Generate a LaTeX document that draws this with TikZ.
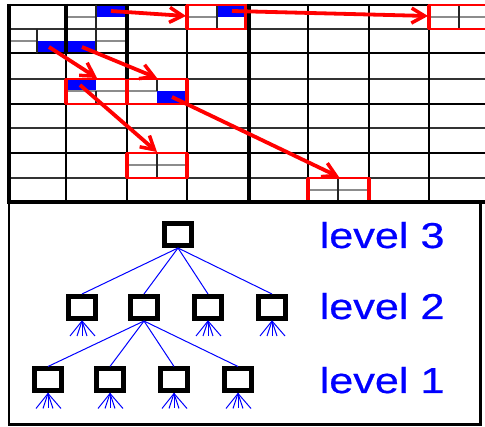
\documentclass[tikz,border=0pt]{standalone}
\usepackage{fontspec}
\newfontfamily\labelfont[FakeBold=0.5]{Liberation Sans}
\usetikzlibrary{arrows.meta}
\begin{document}
\begin{tikzpicture}[x=1pt,y=-1pt,
  thickv/.style={line width=4pt,black},
  mainh/.style={line width=2pt,black},
  halfh/.style={line width=1.3pt,black!80},
  thinv/.style={line width=1.5pt,black},
  subh/.style={line width=1.3pt,black!45},
  subv/.style={line width=1.3pt,black!85},
  bluecell/.style={fill=blue},
  redbox/.style={draw=red,line width=2pt},
  redside/.style={red,line width=4pt},
  jump/.style={red,line width=3.8pt,-{Straight Barb[length=13pt,width=15pt,line width=3.5pt]}},
  tbox/.style={draw=black,line width=5pt,minimum width=27pt,minimum height=22pt,inner sep=0pt,fill=white},
  link/.style={blue,line width=1pt},
  lvl/.style={anchor=base west,inner sep=0pt,text=blue,font=\labelfont\fontsize{36}{40}\selectfont}
]
\useasboundingbox (0,0) rectangle (485,427);
\fill[white] (0,0) rectangle (485,427);
\clip (0,0) rectangle (485,427);

% blue cells
\fill[bluecell] (96,5) rectangle (127,17);
\fill[bluecell] (37,41) rectangle (66,53);
\fill[bluecell] (66,41) rectangle (96,53);
\fill[bluecell] (217,5) rectangle (248,17);
\fill[bluecell] (66,79) rectangle (96,91);
\fill[bluecell] (157,91) rectangle (187,104);

% half-row lines
\foreach \y in {29,79,128,178} \draw[halfh] (9,\y) -- (492,\y);
% main rows
\foreach \y in {5,53,104} \draw[mainh] (9,\y) -- (492,\y);
\draw[line width=1.6pt] (9,153) -- (492,153);

% sub-divisions
\draw[subh] (66,17) -- (96,17);
\draw[subv] (96,5) -- (96,29);
\draw[subh] (9,41) -- (37,41);
\draw[subv] (37,29) -- (37,53);
\draw[subh] (96,41) -- (127,41);
\draw[subv] (96,29) -- (96,53);
\draw[subh] (187,17) -- (217,17);
\draw[subv] (217,5) -- (217,29);
\draw[subh] (429,17) -- (492,17);
\draw[subv] (459,5) -- (459,29);
\draw[subh] (66,91) -- (127,91);
\draw[subv] (96,91) -- (96,104);
\draw[subh] (127,91) -- (157,91);
\draw[subv] (157,79) -- (157,91);
\draw[subh] (127,165) -- (187,165);
\draw[subv] (157,153) -- (157,178);
\draw[subh] (308,190) -- (369,190);
\draw[subv] (338,178) -- (338,202);

% vertical lines
\foreach \x in {187,308,369,429} \draw[thinv] (\x,5) -- (\x,202);
\draw[thinv] (66,53) -- (66,202);
\draw[thinv] (127,79) -- (127,202);

% red boxes
\foreach \a/\b/\c/\d in {187/5/246/29, 429/5/492/29, 66/79/127/104, 127/79/187/104, 127/153/187/178, 308/178/369/202}{
  \draw[redbox] (\a,\b) rectangle (\c,\d);
  \draw[redside] (\a,\b) -- (\a,\d);
  \draw[redside] (\c,\b) -- (\c,\d);
}

% thick lines
\draw[thickv] (9,4) -- (9,203);
\draw[thickv] (66,4) -- (66,53);
\draw[thickv] (127,4) -- (127,79);
\draw[thickv] (248.5,4) -- (248.5,203);
\draw[line width=3.5pt] (7,202) -- (492,202);

% bottom panel
\draw[line width=2.5pt] (9,203) -- (9,424.7) -- (480.3,424.7) -- (480.3,203);

% arrows
\coordinate (s1) at (111,11);  \coordinate (e1) at (186,16);
\coordinate (s2) at (232,11);  \coordinate (e2) at (428,16);
\coordinate (s3) at (49,47);   \coordinate (e3) at (97,78);
\coordinate (s4) at (82,47);   \coordinate (e4) at (157,78);
\coordinate (s5) at (80,85);   \coordinate (e5) at (157,152);
\coordinate (s6) at (172,97);  \coordinate (e6) at (339,177);
\foreach \i in {1,...,6} \draw[jump] (s\i) -- (e\i);

% tree
\node[tbox] (t3) at (178,234.5) {};
\node[tbox] (a1) at (82,307.5) {};
\node[tbox] (a2) at (144,307.5) {};
\node[tbox] (a3) at (208,307.5) {};
\node[tbox] (a4) at (272,307.5) {};
\node[tbox] (b1) at (48,380) {};
\node[tbox] (b2) at (110,380) {};
\node[tbox] (b3) at (174,380) {};
\node[tbox] (b4) at (238,380) {};
\foreach \n in {a1,a2,a3,a4} \draw[link] (t3.south) -- (\n.north);
\foreach \n in {b1,b2,b3,b4} \draw[link] (a2.south) -- (\n.north);
\foreach \n in {a1,a3,a4,b1,b2,b3,b4}
  \foreach \dx in {-12,-5,0,5,13}
    \draw[link] (\n.south) -- ++(\dx,15);

% labels
\node[lvl] (l3) at (319.5,248) {\scalebox{1.2}[1]{level 3}};
\node[lvl] (l2) at (319.5,319) {\scalebox{1.2}[1]{level 2}};
\node[lvl] (l1) at (319.5,393) {\scalebox{1.2}[1]{level 1}};
\end{tikzpicture}
\end{document}
